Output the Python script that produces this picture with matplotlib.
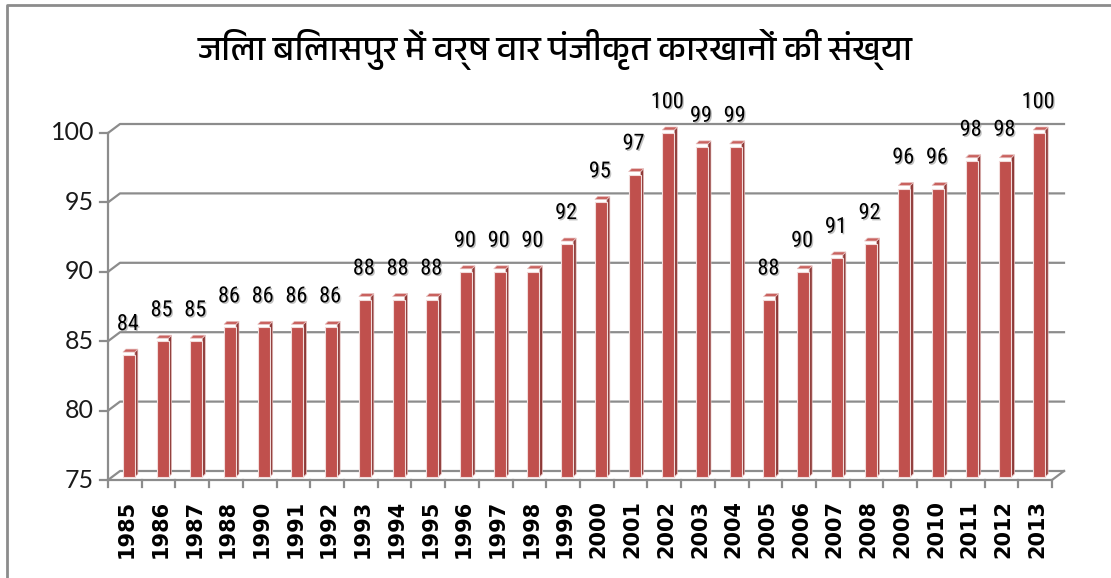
import matplotlib
matplotlib.use("Agg")
import matplotlib.pyplot as plt
from matplotlib import font_manager as fm
from matplotlib.patches import Polygon
from matplotlib.lines import Line2D
import matplotlib.patheffects as pe
from matplotlib.ft2font import FT2Font

# ---------------- data ----------------
title = "जिला बिलासपुर में वर्ष वार पंजीकृत कारखानों की संख्या"
years = ["1985", "1986", "1987", "1988", "1990", "1991", "1992", "1993", "1994",
         "1995", "1996", "1997", "1998", "1999", "2000", "2001", "2002", "2003",
         "2004", "2005", "2006", "2007", "2008", "2009", "2010", "2011", "2012",
         "2013"]
factories = [84, 85, 85, 86, 86, 86, 86, 88, 88, 88, 90, 90, 90, 92, 95, 97,
             100, 99, 99, 88, 90, 91, 92, 96, 96, 98, 98, 100]
y_ticks = [75, 80, 85, 90, 95, 100]

# ---------------- fonts ----------------
names = {f.name for f in fm.fontManager.ttflist}
deva = None
for f in fm.fontManager.ttflist:
    if "Devanagari" in f.name:
        deva = f.name
        break
if deva is None:
    for f in fm.fontManager.ttflist:
        try:
            if 0x0915 in FT2Font(f.fname).get_charmap():
                deva = f.name
                break
        except Exception:
            pass
title_family = ([deva] if deva else []) + ["DejaVu Sans"]
narrow = None
for cand in ["Liberation Sans Narrow", "Roboto Condensed", "Open Sans Condensed",
             "Arial Narrow", "DejaVu Sans Condensed"]:
    if cand in names:
        narrow = cand
        break
label_family = [narrow or "Liberation Sans", "DejaVu Sans"]
label_size = 16 if narrow else 15
ytick_family = ["Lato", "DejaVu Sans"]

W, H = 1111, 578
fig = plt.figure(figsize=(W / 100, H / 100), dpi=100)
fig.patch.set_facecolor("white")

# front axis geometry in pixels
L, R, B, T = 108, 1052, 480, 133
ax = fig.add_axes([L / W, 1 - B / H, (R - L) / W, (B - T) / H])
n = len(years)
x0, x1 = -0.5, n - 0.5
ymin, ymax = y_ticks[0], y_ticks[-1]
ax.set_xlim(x0, x1)
ax.set_ylim(ymin, ymax)
ax.axis("off")

ux = (x1 - x0) / (R - L)      # data units per px (x)
uy = (ymax - ymin) / (B - T)  # data units per px (y)

grid_c = "#8c8c8c"
dxb, dyb = 12 * ux, 9 * uy    # back-wall depth offset

# back wall gridlines with left-wall diagonals
for yv in y_ticks:
    ax.add_line(Line2D([x0, x0 + dxb, x1 + dxb], [yv, yv + dyb, yv + dyb],
                       color=grid_c, lw=1.6, clip_on=False, zorder=1))
# floor front edge, right diagonal, left axis line
ax.add_line(Line2D([x0, x1, x1 + dxb], [ymin, ymin, ymin + dyb],
                   color=grid_c, lw=1.6, clip_on=False, zorder=1))
ax.add_line(Line2D([x0, x0], [ymin, ymax], color=grid_c, lw=1.6,
                   clip_on=False, zorder=1))
# y ticks and labels
for yv in y_ticks:
    ax.add_line(Line2D([x0 - 8 * ux, x0], [yv, yv], color=grid_c, lw=1.6,
                       clip_on=False, zorder=1))
    ax.text(x0 - 14 * ux, yv, str(yv), ha="right", va="center",
            fontsize=18, family=ytick_family, color="#1a1a1a")
# x ticks at category boundaries
for i in range(n + 1):
    xb = x0 + i
    ax.add_line(Line2D([xb, xb], [ymin, ymin - 7 * uy], color=grid_c, lw=1.6,
                       clip_on=False, zorder=1))
# x tick labels
for i, yr in enumerate(years):
    ax.text(i + 2 * ux, ymin - 20 * uy, yr, rotation=90, ha="center", va="top",
            fontsize=15, fontweight="bold", family="DejaVu Sans", color="black")

# bars (3D look)
front_c, side_c, top_c = "#C0504D", "#8E3A38", "#C9625F"
bw = 12 * ux
bsx, bsy = 4 * ux, 3 * uy     # bar offset into depth
sdx, sdy = 3 * ux, 3 * uy     # bar side depth
for i, v in enumerate(factories):
    xl = i - bw / 2 + bsx
    xr = xl + bw
    yb = ymin + bsy
    yt = v + bsy
    ax.add_patch(Polygon([(xr, yb), (xr + sdx, yb + sdy), (xr + sdx, yt + sdy), (xr, yt)],
                         closed=True, facecolor=side_c, edgecolor="#e8c4c3",
                         lw=0.5, zorder=3, clip_on=False))
    ax.add_patch(Polygon([(xl, yt), (xr, yt), (xr + sdx, yt + sdy), (xl + sdx, yt + sdy)],
                         closed=True, facecolor=top_c, edgecolor="#e8c4c3",
                         lw=0.5, zorder=3, clip_on=False))
    ax.bar(i + bsx, v - yb, bottom=yb, width=bw, color=front_c,
           edgecolor="#f2dcdb", linewidth=0.8, zorder=4, clip_on=False)
    ax.text(i + 3 * ux, v + 20 * uy, str(v), ha="center", va="bottom",
            fontsize=label_size, family=label_family, color="black", zorder=6,
            path_effects=[pe.SimplePatchShadow(offset=(1, -1), shadow_rgbFace="#999999", alpha=0.6),
                          pe.Normal()])

# title
fig.text(0.5, 1 - 50 / H, title, ha="center", va="center", fontsize=25,
         family=title_family, color="black")

# outer frame (top and left edges visible)
fig.add_artist(Line2D([7 / W, 7 / W, 1], [0, 1 - 5 / H, 1 - 5 / H],
                      transform=fig.transFigure, color="#8c8c8c", lw=2))

fig.savefig("out.png", dpi=100, facecolor="white")
